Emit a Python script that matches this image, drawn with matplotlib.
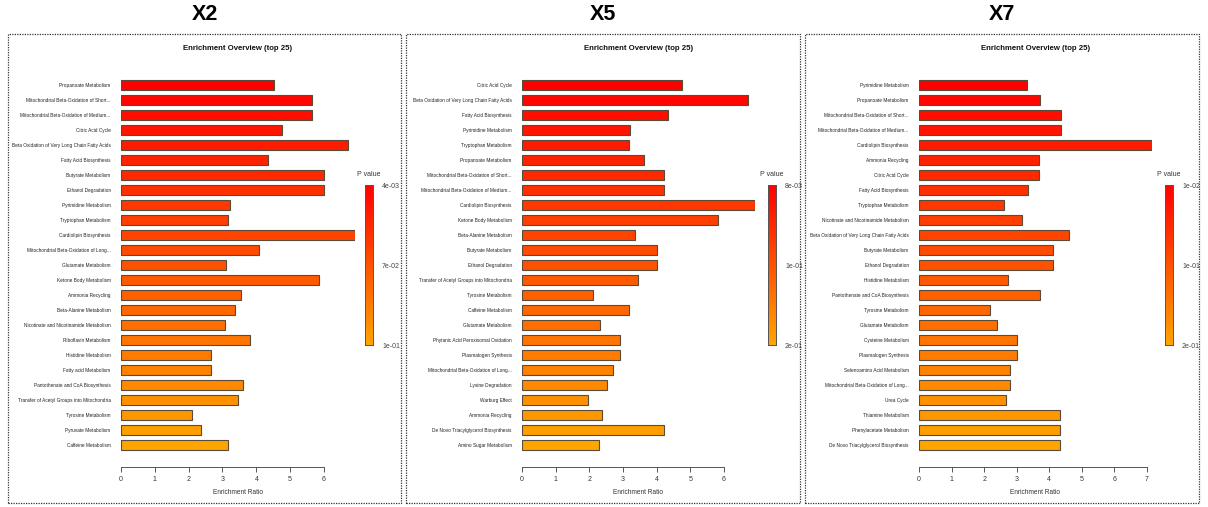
import matplotlib
matplotlib.use("Agg")
import matplotlib.pyplot as plt
import numpy as np
from matplotlib.colors import LinearSegmentedColormap
from matplotlib.patches import Rectangle

plt.rcParams['font.family'] = ['Liberation Sans', 'DejaVu Sans']

# ---------------- data ----------------
x2_labels = ["Propanoate Metabolism", "Mitochondrial Beta-Oxidation of Short...",
             "Mitochondrial Beta-Oxidation of Medium...", "Citric Acid Cycle",
             "Beta Oxidation of Very Long Chain Fatty Acids", "Fatty Acid Biosynthesis",
             "Butyrate Metabolism", "Ethanol Degradation", "Pyrimidine Metabolism",
             "Tryptophan Metabolism", "Cardiolipin Biosynthesis",
             "Mitochondrial Beta-Oxidation of Long...", "Glutamate Metabolism",
             "Ketone Body Metabolism", "Ammonia Recycling", "Beta-Alanine Metabolism",
             "Nicotinate and Nicotinamide Metabolism", "Riboflavin Metabolism",
             "Histidine Metabolism", "Fatty acid Metabolism",
             "Pantothenate and CoA Biosynthesis", "Transfer of Acetyl Groups into Mitochondria",
             "Tyrosine Metabolism", "Pyruvate Metabolism", "Caffeine Metabolism"]
x2_values = [4.52, 5.65, 5.65, 4.76, 6.71, 4.35, 6.00, 6.00, 3.22, 3.16, 6.92, 4.08, 3.10,
             5.85, 3.55, 3.37, 3.07, 3.81, 2.66, 2.66, 3.61, 3.46, 2.10, 2.36, 3.16]
x2_pticks = ["4e-03", "7e-02", "1e-01"]

x5_labels = ["Citric Acid Cycle", "Beta Oxidation of Very Long Chain Fatty Acids",
             "Fatty Acid Biosynthesis", "Pyrimidine Metabolism", "Tryptophan Metabolism",
             "Propanoate Metabolism", "Mitochondrial Beta-Oxidation of Short...",
             "Mitochondrial Beta-Oxidation of Medium...", "Cardiolipin Biosynthesis",
             "Ketone Body Metabolism", "Beta-Alanine Metabolism", "Butyrate Metabolism",
             "Ethanol Degradation", "Transfer of Acetyl Groups into Mitochondria",
             "Tyrosine Metabolism", "Caffeine Metabolism", "Glutamate Metabolism",
             "Phytanic Acid Peroxisomal Oxidation", "Plasmalogen Synthesis",
             "Mitochondrial Beta-Oxidation of Long...", "Lysine Degradation",
             "Warburg Effect", "Ammonia Recycling", "De Novo Triacylglycerol Biosynthesis",
             "Amino Sugar Metabolism"]
x5_values = [4.75, 6.71, 4.34, 3.21, 3.18, 3.62, 4.22, 4.22, 6.92, 5.82, 3.36, 4.01, 4.01,
             3.45, 2.11, 3.18, 2.32, 2.91, 2.91, 2.70, 2.52, 1.96, 2.38, 4.22, 2.29]
x5_pticks = ["8e-03", "1e-01", "2e-01"]

x7_labels = ["Pyrimidine Metabolism", "Propanoate Metabolism",
             "Mitochondrial Beta-Oxidation of Short...",
             "Mitochondrial Beta-Oxidation of Medium...", "Cardiolipin Biosynthesis",
             "Ammonia Recycling", "Citric Acid Cycle", "Fatty Acid Biosynthesis",
             "Tryptophan Metabolism", "Nicotinate and Nicotinamide Metabolism",
             "Beta Oxidation of Very Long Chain Fatty Acids", "Butyrate Metabolism",
             "Ethanol Degradation", "Histidine Metabolism",
             "Pantothenate and CoA Biosynthesis", "Tyrosine Metabolism",
             "Glutamate Metabolism", "Cysteine Metabolism", "Plasmalogen Synthesis",
             "Selenoamino Acid Metabolism", "Mitochondrial Beta-Oxidation of Long...",
             "Urea Cycle", "Thiamine Metabolism", "Phenylacetate Metabolism",
             "De Novo Triacylglycerol Biosynthesis"]
x7_values = [3.32, 3.72, 4.36, 4.36, 7.15, 3.68, 3.68, 3.35, 2.61, 3.16, 4.61, 4.11, 4.11,
             2.73, 3.72, 2.18, 2.39, 3.01, 3.01, 2.79, 2.79, 2.67, 4.33, 4.33, 4.33]
x7_pticks = ["1e-02", "1e-01", "2e-01"]

panel_names = ["X2", "X5", "X7"]

# ---------------- layout ----------------
W, H = 1208, 507
fig = plt.figure(figsize=(W / 100, H / 100), dpi=100)
fig.patch.set_facecolor("white")

def rect(left, top, width, height):
    return [left / W, 1 - (top + height) / H, width / W, height / H]

cmap = LinearSegmentedColormap.from_list("heat", ["#FF0000", "#FF5200", "#FFA500"])

panels = [
    dict(name=panel_names[0], labels=x2_labels, values=x2_values, pticks=x2_pticks,
         box=(8, 401), x0=121, unit=33.83, cbx=365),
    dict(name=panel_names[1], labels=x5_labels, values=x5_values, pticks=x5_pticks,
         box=(406, 800), x0=522, unit=33.67, cbx=768),
    dict(name=panel_names[2], labels=x7_labels, values=x7_values, pticks=x7_pticks,
         box=(805, 1199), x0=919, unit=32.57, cbx=1165),
]

first_y, step = 85, 15
for p in panels:
    bl, br = p["box"]
    # dotted frame
    fig.patches.append(Rectangle((bl / W, 1 - 503 / H), (br - bl) / W, (503 - 34) / H,
                                 transform=fig.transFigure, fill=False, linestyle=(0, (1, 1)),
                                 linewidth=0.9, edgecolor="#333333"))
    fig.text((bl + br) / 2 / W, 1 - 15 / H, p["name"], ha="center", va="center",
             fontsize=15.5, fontweight="bold", color="black")

    vals = np.array(p["values"])
    n = len(vals)
    xmax = vals.max()
    top_lim, bot_lim = -0.6, (467 - first_y) / step
    width_px = xmax * p["unit"]
    ax_top = first_y + top_lim * step
    ax_h = (bot_lim - top_lim) * step
    ax = fig.add_axes(rect(p["x0"], ax_top, width_px, ax_h))
    ax.set_facecolor("none")
    y = np.arange(n)
    colors = [cmap(i / (n - 1)) for i in range(n)]
    ax.barh(y, vals, height=0.68, color=colors, edgecolor="#5a4a3a", linewidth=0.8)
    ax.set_xlim(0, xmax)
    ax.set_ylim(bot_lim, top_lim)
    ax.set_yticks(y)
    ax.set_yticklabels(p["labels"], fontsize=3.45, color="#222222")
    ax.tick_params(axis="y", length=0, pad=7.5)
    last = int(np.floor(xmax))
    ax.set_xticks(np.arange(0, last + 1))
    ax.set_xticklabels([str(i) for i in range(last + 1)], fontsize=5, color="#333333")
    ax.tick_params(axis="x", length=3.5, width=0.7, color="#555555", pad=3)
    for s in ["top", "right", "left"]:
        ax.spines[s].set_visible(False)
    ax.spines["bottom"].set_bounds(0, last)
    ax.spines["bottom"].set_color("#555555")
    ax.spines["bottom"].set_linewidth(0.7)

    cx = p["x0"] + width_px / 2
    fig.text(cx / W, 1 - 49 / H, "Enrichment Overview (top 25)", ha="center", va="center",
             fontsize=5.6, fontweight="bold", color="#111111")
    fig.text(cx / W, 1 - 493 / H, "Enrichment Ratio", ha="center", va="center",
             fontsize=4.7, color="#333333")

    # colorbar
    cbx = p["cbx"]
    cax = fig.add_axes(rect(cbx, 185, 8, 160))
    grad = np.linspace(0, 1, 256).reshape(-1, 1)
    cax.imshow(grad, aspect="auto", cmap=cmap, extent=(0, 1, 1, 0))
    cax.set_xticks([])
    cax.yaxis.tick_right()
    cax.set_yticks([0, 0.5, 1])
    cax.set_yticklabels(p["pticks"], fontsize=5, color="#444444")
    cax.tick_params(axis="y", length=0, pad=6.5)
    for s in cax.spines.values():
        s.set_color("#555555")
        s.set_linewidth(0.7)
    fig.text((cbx + 4) / W, 1 - 174 / H, "P value", ha="center", va="center",
             fontsize=5, color="#333333")

fig.savefig("out.png", dpi=100, facecolor="white")
